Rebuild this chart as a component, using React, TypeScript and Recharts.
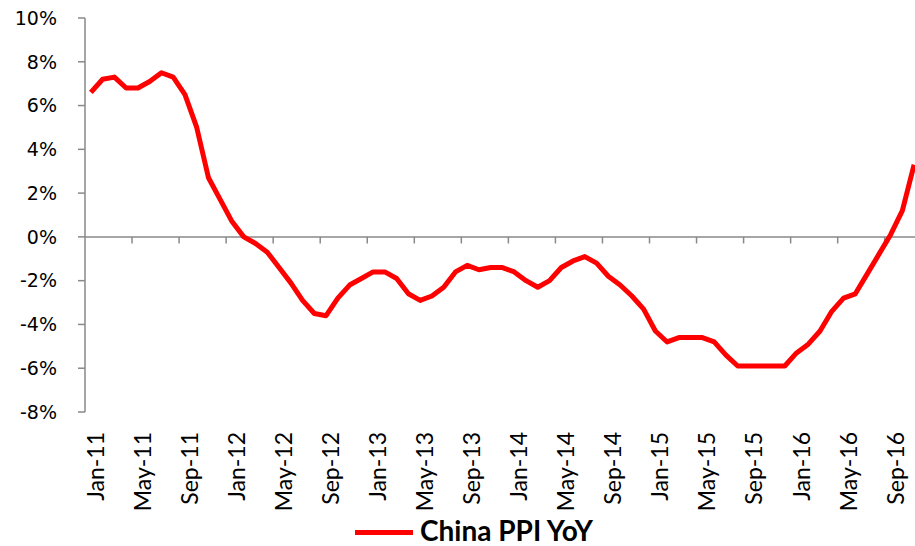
import React from 'react';
import { LineChart, Line, XAxis, YAxis, ReferenceLine, Legend } from 'recharts';

const months = [
  'Jan-11', 'Feb-11', 'Mar-11', 'Apr-11', 'May-11', 'Jun-11', 'Jul-11', 'Aug-11', 'Sep-11', 'Oct-11', 'Nov-11', 'Dec-11',
  'Jan-12', 'Feb-12', 'Mar-12', 'Apr-12', 'May-12', 'Jun-12', 'Jul-12', 'Aug-12', 'Sep-12', 'Oct-12', 'Nov-12', 'Dec-12',
  'Jan-13', 'Feb-13', 'Mar-13', 'Apr-13', 'May-13', 'Jun-13', 'Jul-13', 'Aug-13', 'Sep-13', 'Oct-13', 'Nov-13', 'Dec-13',
  'Jan-14', 'Feb-14', 'Mar-14', 'Apr-14', 'May-14', 'Jun-14', 'Jul-14', 'Aug-14', 'Sep-14', 'Oct-14', 'Nov-14', 'Dec-14',
  'Jan-15', 'Feb-15', 'Mar-15', 'Apr-15', 'May-15', 'Jun-15', 'Jul-15', 'Aug-15', 'Sep-15', 'Oct-15', 'Nov-15', 'Dec-15',
  'Jan-16', 'Feb-16', 'Mar-16', 'Apr-16', 'May-16', 'Jun-16', 'Jul-16', 'Aug-16', 'Sep-16', 'Oct-16', 'Nov-16',
];

const ppiYoY = [
  6.6, 7.2, 7.3, 6.8, 6.8, 7.1, 7.5, 7.3, 6.5, 5.0, 2.7, 1.7,
  0.7, 0.0, -0.3, -0.7, -1.4, -2.1, -2.9, -3.5, -3.6, -2.8, -2.2, -1.9,
  -1.6, -1.6, -1.9, -2.6, -2.9, -2.7, -2.3, -1.6, -1.3, -1.5, -1.4, -1.4,
  -1.6, -2.0, -2.3, -2.0, -1.4, -1.1, -0.9, -1.2, -1.8, -2.2, -2.7, -3.3,
  -4.3, -4.8, -4.6, -4.6, -4.6, -4.8, -5.4, -5.9, -5.9, -5.9, -5.9, -5.9,
  -5.3, -4.9, -4.3, -3.4, -2.8, -2.6, -1.7, -0.8, 0.1, 1.2, 3.3,
];

const yTicks = [-8, -6, -4, -2, 0, 2, 4, 6, 8, 10];
const xLabelTicks = [0, 4, 8, 12, 16, 20, 24, 28, 32, 36, 40, 44, 48, 52, 56, 60, 64, 68];
const xTickMarks = [3.5, 7.5, 11.5, 15.5, 19.5, 23.5, 27.5, 31.5, 35.5, 39.5, 43.5, 47.5, 51.5, 55.5, 59.5, 63.5, 67.5];

const seriesName = 'China PPI YoY';
const axisGray = '#898989';

const data = months.map((m, i) => ({ idx: i, month: m, ppi: ppiYoY[i] }));

const XLabel = (props: any) => {
  const { x, y, payload } = props;
  const cx = x + 4;
  const cy = y + 18;
  return (
    <text
      x={cx}
      y={cy}
      transform={`rotate(-90 ${cx} ${cy})`}
      textAnchor="end"
      dominantBaseline="central"
      fontFamily="Lato"
      fontSize={23}
      fill="#000"
    >
      {months[payload.value]}
    </text>
  );
};

const LegendContent = () => (
  <div style={{ height: 36, position: 'relative', width: 915 }}>
    <div style={{ position: 'absolute', left: 355, top: 20, width: 58, height: 5, background: '#FF0000' }} />
    <div
      style={{
        position: 'absolute',
        left: 420,
        top: 5,
        fontFamily: 'Lato',
        fontWeight: 700,
        fontSize: 28,
        lineHeight: '30px',
        color: '#000',
        whiteSpace: 'nowrap',
      }}
    >
      {seriesName}
    </div>
  </div>
);

export default function App() {
  return (
    <div style={{ position: 'absolute', left: 0, top: 0, width: 915, height: 546, overflow: 'hidden', background: '#fff' }}>
      <LineChart width={920} height={546} data={data} margin={{ top: 18, right: 0, left: 0, bottom: 0 }}>
        <XAxis
          type="number"
          dataKey="idx"
          domain={[-0.5, 70.5]}
          ticks={xLabelTicks}
          interval={0}
          height={98}
          axisLine={false}
          tickLine={false}
          tickSize={0}
          tick={<XLabel />}
          allowDataOverflow
        />
        <YAxis
          type="number"
          domain={[-8, 10]}
          ticks={yTicks}
          interval={0}
          width={85}
          axisLine={{ stroke: axisGray, strokeWidth: 1.5 }}
          tickLine={{ stroke: axisGray, strokeWidth: 1.5 }}
          tickSize={7}
          tickMargin={21}
          tickFormatter={(v: number) => `${v}%`}
          tick={{ fontFamily: 'DejaVu Sans', fontSize: 19, fill: '#000' }}
        />
        <ReferenceLine y={0} stroke={axisGray} strokeWidth={1.5} />
        {xTickMarks.map((t) => (
          <ReferenceLine
            key={t}
            segment={[{ x: t, y: 0 }, { x: t, y: -0.3 }]}
            stroke={axisGray}
            strokeWidth={1.5}
          />
        ))}
        <Line
          type="linear"
          dataKey="ppi"
          name={seriesName}
          stroke="#FF0000"
          strokeWidth={5}
          dot={false}
          strokeLinejoin="round"
          isAnimationActive={false}
        />
        <Legend verticalAlign="bottom" align="left" content={<LegendContent />} />
      </LineChart>
    </div>
  );
}
